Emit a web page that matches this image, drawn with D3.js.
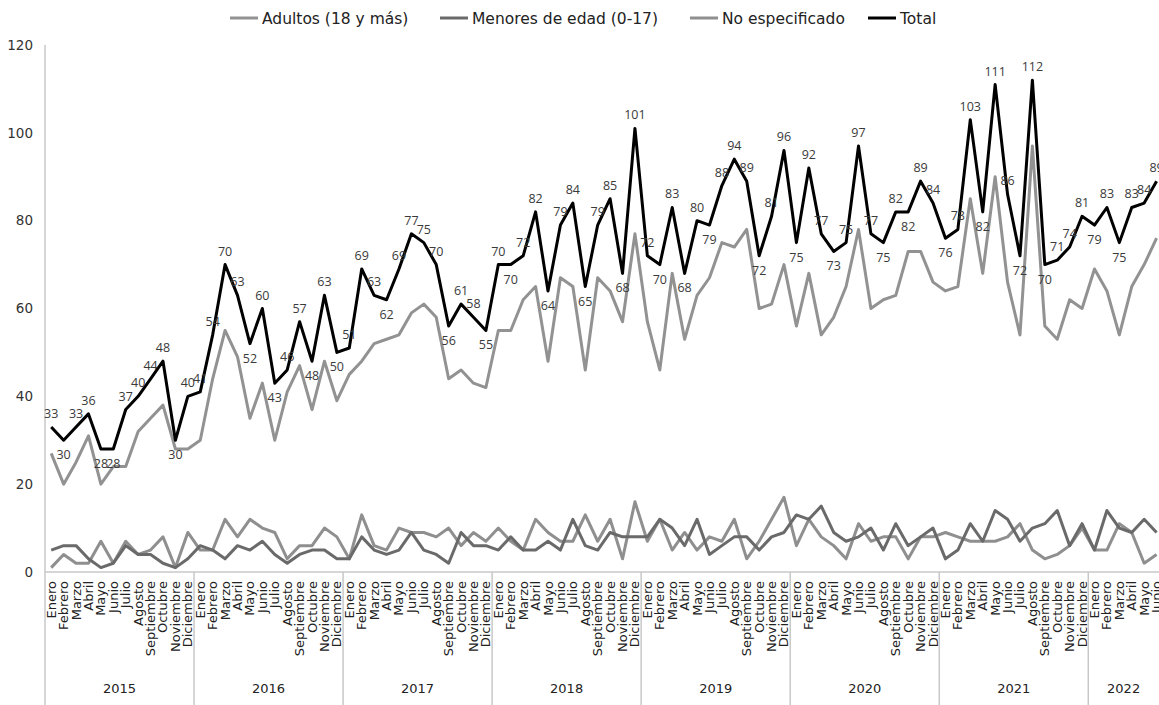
<!DOCTYPE html>
<html>
<head>
<meta charset="utf-8">
<script src="https://cdn.jsdelivr.net/npm/d3@7"></script>
<style>
  body { margin: 0; background: #fff; }
  text { font-family: "Open Sans", sans-serif; }
</style>
</head>
<body>
<script>
// categories
var months = ["Enero", "Febrero", "Marzo", "Abril", "Mayo", "Junio", "Julio", "Agosto", "Septiembre", "Octubre", "Noviembre", "Diciembre"]
var years = ["2015", "2016", "2017", "2018", "2019", "2020", "2021", "2022"]
var monthsLastYear = 6
var yTicks = [0, 20, 40, 60, 80, 100, 120]

// series values, Jan 2015 - Jun 2022
var total = [
    33, 30, 33, 36, 28, 28, 37, 40, 44, 48, 30, 40,
    41, 54, 70, 63, 52, 60, 43, 46, 57, 48, 63, 50,
    51, 69, 63, 62, 69, 77, 75, 70, 56, 61, 58, 55,
    70, 70, 72, 82, 64, 79, 84, 65, 79, 85, 68, 101,
    72, 70, 83, 68, 80, 79, 88, 94, 89, 72, 81, 96,
    75, 92, 77, 73, 75, 97, 77, 75, 82, 82, 89, 84,
    76, 78, 103, 82, 111, 86, 72, 112, 70, 71, 74, 81,
    79, 83, 75, 83, 84, 89]
var adultos = [
    27, 20, 25, 31, 20, 24, 24, 32, 35, 38, 28, 28,
    30, 44, 55, 49, 35, 43, 30, 41, 47, 37, 48, 39,
    45, 48, 52, 53, 54, 59, 61, 58, 44, 46, 43, 42,
    55, 55, 62, 65, 48, 67, 65, 46, 67, 64, 57, 77,
    57, 46, 68, 53, 63, 67, 75, 74, 78, 60, 61, 70,
    56, 68, 54, 58, 65, 78, 60, 62, 63, 73, 73, 66,
    64, 65, 85, 68, 90, 66, 54, 97, 56, 53, 62, 60,
    69, 64, 54, 65, 70, 76]
var menores = [
    5, 6, 6, 3, 1, 2, 6, 4, 4, 2, 1, 3,
    6, 5, 3, 6, 5, 7, 4, 2, 4, 5, 5, 3,
    3, 8, 5, 4, 5, 9, 5, 4, 2, 9, 6, 6,
    5, 8, 5, 5, 7, 5, 12, 6, 5, 9, 8, 8,
    8, 12, 10, 6, 12, 4, 6, 8, 8, 5, 8, 9,
    13, 12, 15, 9, 7, 8, 10, 5, 11, 6, 8, 10,
    3, 5, 11, 7, 14, 12, 7, 10, 11, 14, 6, 11,
    5, 14, 10, 9, 12, 9]
var noEspecificado = [
    1, 4, 2, 2, 7, 2, 7, 4, 5, 8, 1, 9,
    5, 5, 12, 8, 12, 10, 9, 3, 6, 6, 10, 8,
    3, 13, 6, 5, 10, 9, 9, 8, 10, 6, 9, 7,
    10, 7, 5, 12, 9, 7, 7, 13, 7, 12, 3, 16,
    7, 12, 5, 9, 5, 8, 7, 12, 3, 7, 12, 17,
    6, 12, 8, 6, 3, 11, 7, 8, 8, 3, 8, 8,
    9, 8, 7, 7, 7, 8, 11, 5, 3, 4, 6, 10,
    5, 5, 11, 9, 2, 4]

var width = 1159
var height = 705
var left = 45
var axisY = 572
var topY = 45
var step = 12.42

// build month / year categories
var cats = []
years.forEach(function (y, yi) {
    var n = (yi === years.length - 1) ? monthsLastYear : 12
    for (var m = 0; m < n; m++) cats.push({ year: y, month: months[m] })
})

var series = [
    { name: "No especificado", values: noEspecificado, color: "#8f8f8f" },
    { name: "Menores de edad (0-17)", values: menores, color: "#6a6a6a" },
    { name: "Adultos (18 y más)", values: adultos, color: "#929292" },
    { name: "Total", values: total, color: "#000000" }
]

var xScale = d3.scaleBand()
    .domain(d3.range(cats.length))
    .range([left, left + cats.length * step])
    .padding(0)
var yScale = d3.scaleLinear()
    .domain([0, 120])
    .range([axisY, topY])
var cx = function (i) { return xScale(i) + xScale.bandwidth() / 2 }

var svg = d3.select("body").append("svg")
    .attr("width", width)
    .attr("height", height)

//y axis labels, no ticks
var yAxis = d3.axisLeft(yScale).tickValues(yTicks).tickSize(0).tickPadding(12)
var gy = svg.append("g").attr("transform", "translate(" + left + ",0)").call(yAxis)
gy.select(".domain").remove()
gy.selectAll("text").attr("font-size", 13.5).attr("fill", "#333")
    .style("font-family", "'DejaVu Sans', sans-serif")

// axis lines
svg.append("line").attr("x1", left).attr("x2", width).attr("y1", axisY).attr("y2", axisY)
    .attr("stroke", "#c8c8c8").attr("stroke-width", 1.5)
svg.append("line").attr("x1", left).attr("x2", left).attr("y1", topY).attr("y2", height)
    .attr("stroke", "#c8c8c8").attr("stroke-width", 1.5)

// month labels
svg.append("g").selectAll("text")
    .data(cats)
    .enter()
    .append("text")
    .attr("transform", function (d, i) { return "translate(" + (cx(i) + 4.5) + "," + (axisY + 9) + ") rotate(-90)" })
    .attr("text-anchor", "end")
    .attr("font-size", 13)
    .attr("fill", "#222")
    .style("font-family", "'DejaVu Sans', sans-serif")
    .text(function (d) { return d.month })

// year separators and labels
var yearStart = 0
years.forEach(function (y, yi) {
    var n = (yi === years.length - 1) ? monthsLastYear : 12
    var x0 = xScale(yearStart)
    var x1 = xScale(yearStart + n - 1) + xScale.bandwidth()
    if (yi > 0) {
        svg.append("line").attr("x1", x0).attr("x2", x0).attr("y1", axisY).attr("y2", height)
            .attr("stroke", "#c8c8c8").attr("stroke-width", 1.5)
    }
    svg.append("text").attr("x", (x0 + Math.min(x1, width)) / 2).attr("y", 693)
        .attr("text-anchor", "middle").attr("font-size", 13).attr("fill", "#222")
        .style("font-family", "'DejaVu Sans', sans-serif")
        .text(y)
    yearStart += n
})

// lines
var line = d3.line()
    .x(function (d, i) { return cx(i) })
    .y(function (d) { return yScale(d) })

series.forEach(function (s) {
    svg.append("path")
        .datum(s.values)
        .attr("fill", "none")
        .attr("stroke", s.color)
        .attr("stroke-width", 3)
        .attr("stroke-linejoin", "round")
        .attr("d", line)
})

// total labels: below local minimums, above otherwise
svg.append("g").selectAll("text")
    .data(total)
    .enter()
    .append("text")
    .attr("x", function (d, i) { return cx(i) })
    .attr("y", function (d, i) {
        var prev = i > 0 ? total[i - 1] : Infinity
        var next = i < total.length - 1 ? total[i + 1] : Infinity
        var below = d <= prev && d <= next
        return below ? yScale(d) + 19 : yScale(d) - 9
    })
    .attr("text-anchor", "middle")
    .attr("font-size", 12.5)
    .attr("fill", "#3a3a3a")
    .text(function (d) { return d })

// legend
var legendItems = [series[2], series[1], series[0], series[3]]
var legendX = [230, 440, 690, 868]
legendItems.forEach(function (s, i) {
    var g = svg.append("g").attr("transform", "translate(" + legendX[i] + ",18)")
    g.append("line").attr("x1", 0).attr("x2", 28).attr("y1", 0).attr("y2", 0)
        .attr("stroke", s.color).attr("stroke-width", 3)
    g.append("text").attr("x", 32).attr("y", 5.5).attr("font-size", 15.5).attr("fill", "#222")
        .style("font-family", "'DejaVu Sans', sans-serif")
        .text(s.name)
})
</script>
</body>
</html>
